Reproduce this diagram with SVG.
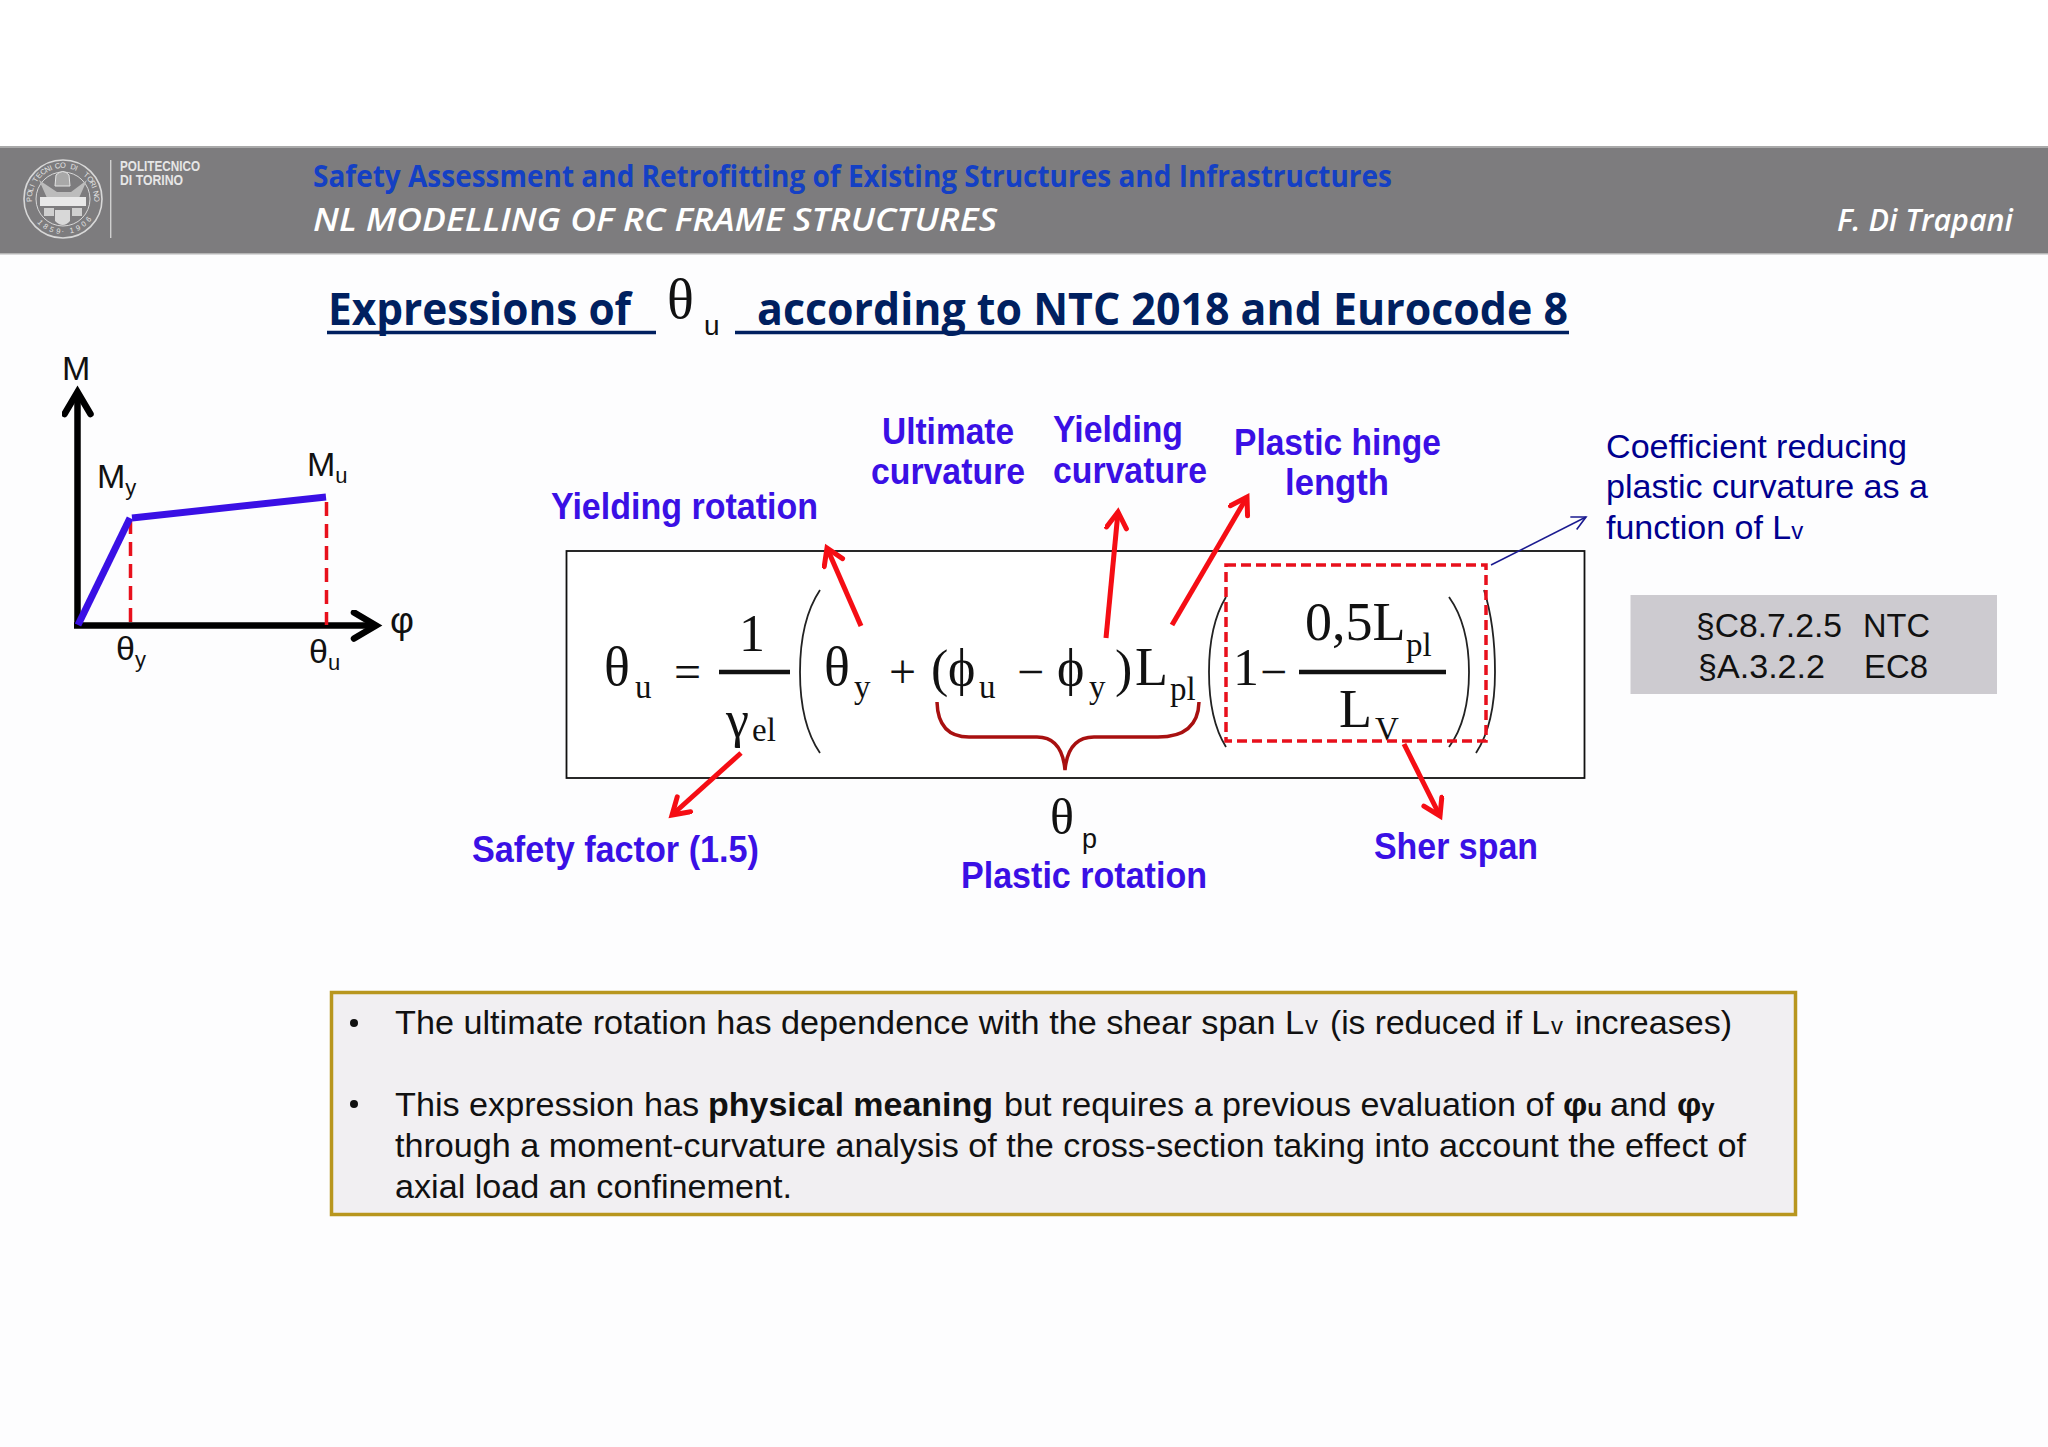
<svg xmlns="http://www.w3.org/2000/svg" width="2048" height="1447" viewBox="0 0 2048 1447">
<style>
text{font-family:"Liberation Sans",Arial,sans-serif;}
text.h{font-family:"Open Sans","Noto Sans",sans-serif;}
text.ser,.serg text{font-family:"Liberation Serif","Times New Roman",serif;fill:#111;}
.lab{font-weight:700;font-size:36px;fill:#3a10e5;}
.coef{font-size:34px;fill:#00008f;}
.ref{font-size:34px;fill:#111;}
.body{font-size:34px;fill:#111;}
.ch{fill:#111;}
.arr{fill:none;stroke:#f50d14;stroke-width:5;marker-end:url(#redHead);}
.paren{fill:none;stroke:#222;stroke-width:1.8;}
.frac{stroke:#111;stroke-width:4.5;}
.dash{fill:none;stroke:#e8101c;stroke-width:3.5;stroke-dasharray:10 5;}
.seal{fill:none;stroke:#d8d8d8;}
</style>
<defs>
<marker id="redHead" markerUnits="userSpaceOnUse" markerWidth="34" markerHeight="34" refX="20" refY="12" orient="auto">
<path d="M4 2 L20 12 L4 22" fill="none" stroke="#f50d14" stroke-width="5" stroke-linecap="round" stroke-linejoin="miter"/>
</marker>
<marker id="blueHead" markerUnits="userSpaceOnUse" markerWidth="24" markerHeight="24" refX="17" refY="10" orient="auto">
<path d="M3 3 L17 10 L3 17" fill="none" stroke="#1a1a90" stroke-width="1.6"/>
</marker>
<marker id="blackHead" markerUnits="userSpaceOnUse" markerWidth="44" markerHeight="44" refX="27" refY="16" orient="auto">
<path d="M5 3 L27 16 L5 29" fill="none" stroke="#000" stroke-width="6.5" stroke-linecap="round"/>
</marker>
</defs>

<rect width="2048" height="1447" fill="#fff"/>
<rect y="254" width="2048" height="1193" fill="#fdfdfe"/>

<g id="header">
<rect y="147" width="2048" height="107" fill="#7d7c7e"/>
<rect y="146" width="2048" height="2" fill="#a9a9a9"/>
<rect y="253" width="2048" height="1.5" fill="#b5b5b5"/>
<g id="logo">
<circle class="seal" cx="63" cy="199" r="39" stroke-width="1.6"/>
<circle class="seal" cx="63" cy="199" r="27" stroke-width="1"/>
<text font-size="7.5" fill="#e2e2e2" x="32.1 32.1 32.8 34.3 36.4 39.3 42.7 46.6 50.9 55.5 60.3 65.2 70 74.6 79 82.9 86.4 89.3 91.6 93.1 93.9" y="201.7 196.8 192 187.4 183 179.1 175.6 172.7 170.5 168.9 168.1 168.1 168.8 170.3 172.4 175.3 178.7 182.6 186.9 191.5 196.3" rotate="-95 -86 -77 -68 -59 -50 -41 -32 -23 -14 -5 4 13 22 31 40 49 58 67 76 85">POLITECNICO DI TORINO</text>
<text font-size="7.5" fill="#e2e2e2" x="37 42.4 48.8 55.7 61.5 70.3 77.2 83.6 89" y="222.4 227.3 231 233.2 234 233.2 231 227.3 222.4" rotate="48 36 24 12 0 -12 -24 -36 -48">1859·1906</text>
<path d="M56 175 q7 -7 13 0 l1 11 h-15z" fill="#a8a8a8" stroke="#e4e4e4"/>
<path d="M39 180 l18 12 h14 l16 -12 l-8 18 h-32z" fill="#bcbcbc"/>
<rect x="40" y="197" width="46" height="9" fill="#e8e8e8"/>
<path d="M44 208 h10 v8 h-10z M72 208 h10 v8 h-10z" fill="#cfcfcf"/>
<path d="M55 210 h15 v11 q-7 8 -15 0z" fill="#d8d8d8"/>
<line x1="110.7" y1="160" x2="110.7" y2="238" stroke="#cfcfcf" stroke-width="1.4"/>
<text x="120" y="171" font-size="15" font-weight="700" fill="#e6e6e6" textLength="80" lengthAdjust="spacingAndGlyphs">POLITECNICO</text>
<text x="120" y="185" font-size="15" font-weight="700" fill="#e6e6e6" textLength="63" lengthAdjust="spacingAndGlyphs">DI TORINO</text>
</g>
<text class="h" x="313" y="187" font-size="30" font-weight="700" fill="#1440c4" textLength="1079" lengthAdjust="spacingAndGlyphs">Safety Assessment and Retrofitting of Existing Structures and Infrastructures</text>
<text class="h" x="313" y="231" font-size="33" font-style="italic" font-weight="600" fill="#fff" textLength="684" lengthAdjust="spacingAndGlyphs">NL MODELLING OF RC FRAME STRUCTURES</text>
<text class="h" x="1837" y="231" font-size="31" font-style="italic" font-weight="600" fill="#fff" textLength="176" lengthAdjust="spacingAndGlyphs">F. Di Trapani</text>
</g>

<g id="title">
<text class="h" x="328" y="325" font-size="44" font-weight="700" fill="#002060" textLength="303" lengthAdjust="spacingAndGlyphs">Expressions of</text>
<line x1="327" y1="332.5" x2="656" y2="332.5" stroke="#002060" stroke-width="3.5"/>
<text class="ser" x="667" y="318" font-size="56">θ</text>
<text x="704" y="335" font-size="28" fill="#111">u</text>
<line x1="735" y1="332.5" x2="1569" y2="332.5" stroke="#002060" stroke-width="3.5"/>
<text class="h" x="757" y="325" font-size="44" font-weight="700" fill="#002060" textLength="811" lengthAdjust="spacingAndGlyphs">according to NTC 2018 and Eurocode 8</text>
</g>

<g id="moment-curvature-chart">
<g id="axes" fill="none" stroke="#000" stroke-width="6.5">
<line x1="77.5" y1="628" x2="77.5" y2="392" marker-end="url(#blackHead)"/>
<line x1="74" y1="625.5" x2="376" y2="625.5" marker-end="url(#blackHead)"/>
</g>
<line class="dash" x1="130.5" y1="520" x2="130.5" y2="625" style="stroke-dasharray:14 8"/>
<line class="dash" x1="326.5" y1="502" x2="326.5" y2="625" style="stroke-dasharray:14 8"/>
<path d="M78 625 L130 518" fill="none" stroke="#3a10e5" stroke-width="7"/>
<path d="M132 518 L326 497" fill="none" stroke="#3a10e5" stroke-width="7"/>
<text class="ch" x="62" y="380" font-size="34">M</text>
<text class="ch" x="97" y="488" font-size="34">M<tspan font-size="22" dy="7">y</tspan></text>
<text class="ch" x="307" y="476" font-size="34">M<tspan font-size="22" dy="7">u</tspan></text>
<text class="ch" x="116" y="660" font-size="34">θ<tspan font-size="22" dy="7">y</tspan></text>
<text class="ch" x="309" y="663" font-size="34">θ<tspan font-size="22" dy="7">u</tspan></text>
<text class="ch" x="390" y="633" font-size="37">φ</text>
</g>

<g id="formula">
<rect x="566.5" y="551" width="1018" height="227" fill="#fff" stroke="#111" stroke-width="1.8"/>
<g class="serg">
<text x="604" y="685" font-size="54">θ</text>
<text x="635" y="698" font-size="33">u</text>
<text x="674" y="688" font-size="48">=</text>
<text x="739" y="651" font-size="52">1</text>
<text x="726" y="737" font-size="52">γ</text>
<text x="752" y="741" font-size="33">el</text>
<text x="824" y="685" font-size="54">θ</text>
<text x="854" y="698" font-size="33">y</text>
<text x="889" y="688" font-size="48">+</text>
<text x="931" y="686" font-size="52">(</text>
<text x="948" y="685" font-size="52">ϕ</text>
<text x="979" y="698" font-size="33">u</text>
<text x="1017" y="688" font-size="48">−</text>
<text x="1057" y="685" font-size="52">ϕ</text>
<text x="1089" y="698" font-size="33">y</text>
<text x="1115" y="686" font-size="52">)</text>
<text x="1135" y="685" font-size="54">L</text>
<text x="1170" y="700" font-size="33">pl</text>
<text x="1233" y="685" font-size="52">1</text>
<text x="1260" y="688" font-size="48">−</text>
<text x="1305" y="640" font-size="54">0,5L</text>
<text x="1406" y="656" font-size="33">pl</text>
<text x="1339" y="727" font-size="54">L</text>
<text x="1375" y="740" font-size="33">V</text>
</g>
<line class="frac" x1="719" y1="672" x2="790" y2="672"/>
<line class="frac" x1="1299" y1="672" x2="1446" y2="672"/>
<path class="paren" d="M820 590 Q800 620 800 672 Q800 724 820 753"/>
<path class="paren" d="M1226 597 Q1209 625 1209 672 Q1209 720 1226 747"/>
<path class="paren" d="M1449 597 Q1469 625 1469 672 Q1469 720 1449 747"/>
<path class="paren" d="M1484 590 Q1495 625 1495 672 Q1495 724 1476 753"/>
<rect class="dash" x="1226" y="565" width="260" height="176"/>
<path d="M937 702 Q938 737 969 737 H1037 Q1062 737 1065 770 Q1068 737 1094 737 H1158 Q1198 737 1199 702" fill="none" stroke="#a81010" stroke-width="3.5"/>
</g>

<g id="connectors">
<path class="arr" d="M861 626 L827 548"/>
<path class="arr" d="M1106 638 L1118 512"/>
<path class="arr" d="M1172 625 L1247 497"/>
<path class="arr" d="M741 753 L672 815"/>
<path class="arr" d="M1404 744 L1440 816"/>
<path d="M1491 565 L1586 517" fill="none" stroke="#1a1a90" stroke-width="1.5" marker-end="url(#blueHead)"/>
</g>

<g id="labels">
<g id="label-yielding-rotation"><text class="lab" x="551" y="519" textLength="267" lengthAdjust="spacingAndGlyphs">Yielding rotation</text></g>
<g id="label-ultimate-curvature">
<text class="lab" x="882" y="444" textLength="132" lengthAdjust="spacingAndGlyphs">Ultimate</text>
<text class="lab" x="871" y="484" textLength="154" lengthAdjust="spacingAndGlyphs">curvature</text></g>
<g id="label-yielding-curvature">
<text class="lab" x="1053" y="442" textLength="130" lengthAdjust="spacingAndGlyphs">Yielding</text>
<text class="lab" x="1053" y="483" textLength="154" lengthAdjust="spacingAndGlyphs">curvature</text></g>
<g id="label-plastic-hinge">
<text class="lab" x="1234" y="455" textLength="207" lengthAdjust="spacingAndGlyphs">Plastic hinge</text>
<text class="lab" x="1285" y="495" textLength="104" lengthAdjust="spacingAndGlyphs">length</text></g>
<g id="label-safety-factor"><text class="lab" x="472" y="862" textLength="287" lengthAdjust="spacingAndGlyphs">Safety factor (1.5)</text></g>
<g id="label-plastic-rotation">
<text class="ser" x="1050" y="834" font-size="50">θ</text>
<text x="1082" y="848" font-size="27" fill="#111">p</text>
<text class="lab" x="961" y="888" textLength="246" lengthAdjust="spacingAndGlyphs">Plastic rotation</text></g>
<g id="label-sher-span"><text class="lab" x="1374" y="859" textLength="164" lengthAdjust="spacingAndGlyphs">Sher span</text></g>
<g id="label-coefficient">
<text class="coef" x="1606" y="458" textLength="301" lengthAdjust="spacingAndGlyphs">Coefficient reducing</text>
<text class="coef" x="1606" y="498" textLength="322" lengthAdjust="spacingAndGlyphs">plastic curvature as a</text>
<text class="coef" x="1606" y="539">function of L<tspan font-size="24">v</tspan></text></g>
</g>

<g id="code-references">
<rect x="1630.5" y="595" width="366.5" height="99" fill="#cdcbd0"/>
<text class="ref" x="1696" y="637" textLength="146" lengthAdjust="spacingAndGlyphs">§C8.7.2.5</text>
<text class="ref" x="1863" y="637" textLength="67" lengthAdjust="spacingAndGlyphs">NTC</text>
<text class="ref" x="1698" y="678" textLength="127" lengthAdjust="spacingAndGlyphs">§A.3.2.2</text>
<text class="ref" x="1864" y="678" textLength="64" lengthAdjust="spacingAndGlyphs">EC8</text>
</g>

<g id="notes">
<rect x="331.5" y="992.5" width="1464" height="222" fill="#f1eff2" stroke="#b8961e" stroke-width="3.5"/>
<circle cx="354" cy="1023" r="4" fill="#111"/>
<circle cx="354" cy="1104" r="4" fill="#111"/>
<text class="body" x="395" y="1034" textLength="909" lengthAdjust="spacingAndGlyphs">The ultimate rotation has dependence with the shear span L</text>
<text class="body" x="1305" y="1034" style="font-size:26px">v</text>
<text class="body" x="1330" y="1034" textLength="220" lengthAdjust="spacingAndGlyphs">(is reduced if L</text>
<text class="body" x="1551" y="1034" style="font-size:24px">v</text>
<text class="body" x="1575" y="1034" textLength="157" lengthAdjust="spacingAndGlyphs">increases)</text>
<text class="body" x="395" y="1116" textLength="304" lengthAdjust="spacingAndGlyphs">This expression has</text>
<text class="body" x="708" y="1116" font-weight="700" textLength="285" lengthAdjust="spacingAndGlyphs">physical meaning</text>
<text class="body" x="1004" y="1116" textLength="550" lengthAdjust="spacingAndGlyphs">but requires a previous evaluation of</text>
<text class="body" x="1563" y="1116" font-weight="700" font-family="Liberation Serif">φ<tspan style="font-size:24px">u</tspan></text>
<text class="body" x="1610" y="1116" textLength="57" lengthAdjust="spacingAndGlyphs">and</text>
<text class="body" x="1677" y="1116" font-weight="700">φ<tspan style="font-size:24px">y</tspan></text>
<text class="body" x="395" y="1157" textLength="1351" lengthAdjust="spacingAndGlyphs">through a moment-curvature analysis of the cross-section taking into account the effect of</text>
<text class="body" x="395" y="1198" textLength="397" lengthAdjust="spacingAndGlyphs">axial load an confinement.</text>
</g>
</svg>
